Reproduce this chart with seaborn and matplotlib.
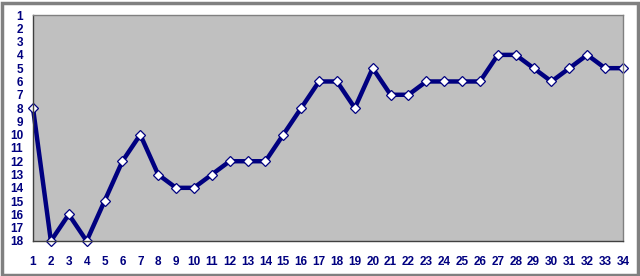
import matplotlib
matplotlib.use("Agg")
import matplotlib.pyplot as plt
import seaborn as sns
import pandas as pd
from matplotlib.patches import Rectangle

categories = list(range(1, 35))
ranks = [8, 18, 16, 18, 15, 12, 10, 13, 14, 14, 13, 12, 12, 12, 10, 8, 6, 6, 8, 5,
         7, 7, 6, 6, 6, 6, 4, 4, 5, 6, 5, 4, 5, 5]
y_ticks = list(range(1, 19))

sns.set_style("white")
plt.rcParams['font.family'] = ['Liberation Sans', 'DejaVu Sans']

df = pd.DataFrame({"cat": categories, "rank": ranks})

fig = plt.figure(figsize=(6.4, 2.76), dpi=100)
W, H = 640, 276
ax = fig.add_axes([33 / W, (H - 241) / H, (623 - 33) / W, (241 - 15) / H])
ax.set_facecolor("#C0C0C0")

sns.lineplot(data=df, x="cat", y="rank", ax=ax, color="#000080", linewidth=3.2,
             marker="D", markersize=5.5, markerfacecolor="white",
             markeredgecolor="#000080", markeredgewidth=0.9, clip_on=False)

ax.set_xlim(1, 34)
ax.set_ylim(18, 1)
ax.set_xticks(categories)
ax.set_xticklabels([str(c) for c in categories])
ax.set_yticks(y_ticks)
ax.set_yticklabels([str(v) for v in y_ticks])
ax.set_xlabel("")
ax.set_ylabel("")

for s in ax.spines.values():
    s.set_color("#808080")
    s.set_linewidth(1)
ax.spines["left"].set_color("#404040")
ax.spines["bottom"].set_color("#404040")

ax.tick_params(axis="x", direction="inout", length=6, width=0.8, color="#404040",
               labelsize=8.5, labelcolor="#000080", pad=8)
ax.tick_params(axis="y", direction="out", length=4, width=0.8, color="#404040",
               labelsize=8.5, labelcolor="#000080", pad=3)
for lab in ax.get_xticklabels() + ax.get_yticklabels():
    lab.set_fontweight("bold")

fig.patches.append(Rectangle((1.5 / W, 1.5 / H), (W - 4) / W, (H - 4) / H,
                             transform=fig.transFigure, fill=False,
                             edgecolor="#808080", linewidth=2.5))

fig.savefig("out.png", dpi=100, facecolor="white")
